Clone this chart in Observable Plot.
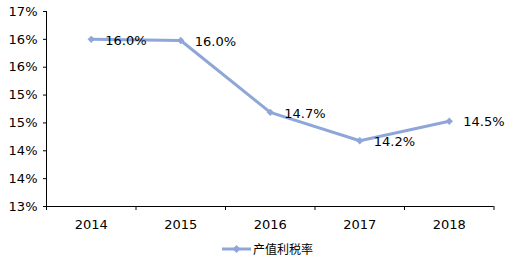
<!DOCTYPE html>
<html>
<head>
<meta charset="utf-8">
<script src="https://cdn.jsdelivr.net/npm/d3@7"></script>
<script src="https://cdn.jsdelivr.net/npm/@observablehq/plot@0.6"></script>
<style>
  body { margin: 0; background: #fff; font-family: "DejaVu Sans", Verdana, sans-serif; }
  #wrap { position: relative; width: 508px; height: 259px; }
  #legend { position: absolute; left: 222px; top: 240px; display: flex; align-items: center; font-size: 12px; font-family: "Noto Sans CJK SC", "DejaVu Sans", sans-serif; color: #000; }
</style>
</head>
<body>
<div id="wrap"><div id="chart"></div>
<div id="legend"><svg width="29" height="10"><line x1="0" y1="5" x2="29" y2="5" stroke="#8FA6D9" stroke-width="3"/><path d="M14.5,1 L18.5,5 L14.5,9 L10.5,5 Z" fill="#8FA6D9"/></svg><span style="margin-left:2px">产值利税率</span></div>
</div>
<script>
const years = ["2014", "2015", "2016", "2017", "2018"];
const values = [16.0, 15.98, 14.69, 14.18, 14.53];
const labels = ["16.0%", "16.0%", "14.7%", "14.2%", "14.5%"];
const yTicks = [13, 13.5, 14, 14.5, 15, 15.5, 16, 16.5];
const yTickLabels = ["13%", "14%", "14%", "15%", "15%", "16%", "16%", "17%"];
const seriesName = "产值利税率";
const color = "#8FA6D9";

const data = years.map((y, i) => ({i, year: y, value: values[i], label: labels[i]}));
const boundaries = d3.range(-0.5, years.length, 1);

const chart = Plot.plot({
  width: 508,
  height: 235,
  marginLeft: 46,
  marginRight: 14.5,
  marginTop: 11,
  marginBottom: 29,
  style: {fontFamily: "DejaVu Sans, Verdana, sans-serif", fontSize: "13px", color: "#000", background: "#fff"},
  x: {type: "linear", domain: [-0.5, years.length - 0.5]},
  y: {domain: [13, 16.5]},
  marks: [
    Plot.axisY({ticks: yTicks, tickFormat: d => yTickLabels[yTicks.indexOf(d)], tickSize: 3, tickPadding: 6, stroke: "#000", label: null}),
    Plot.axisX({ticks: boundaries, tickFormat: () => "", tickSize: 4, stroke: "#000", label: null}),
    Plot.ruleX([-0.5], {y1: 13, y2: 16.5, stroke: "#000"}),
    Plot.ruleY([13], {stroke: "#000"}),
    Plot.text(data, {x: "i", y: () => 13, text: "year", dy: 18, fill: "#000"}),
    Plot.line(data, {x: "i", y: "value", stroke: color, strokeWidth: 3}),
    Plot.dot(data, {x: "i", y: "value", symbol: "diamond2", r: 3.3, fill: color, stroke: "none"}),
    Plot.text(data, {x: "i", y: "value", text: "label", textAnchor: "start", dx: 14, dy: 1, fill: "#000"})
  ]
});
document.getElementById("chart").appendChild(chart);
</script>
</body>
</html>
